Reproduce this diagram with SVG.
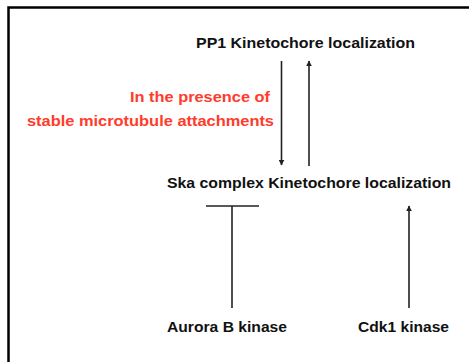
<svg xmlns="http://www.w3.org/2000/svg" width="469" height="362" viewBox="0 0 469 362">
<style>
text{font-family:"Liberation Sans",Arial,sans-serif;font-weight:bold;font-size:15px;fill:#111}
.red{fill:#ff3b2b}
.ln{stroke:#222;stroke-width:1.6;fill:none}
</style>
<defs>
<marker id="ah" viewBox="0 0 10 10" refX="9" refY="5" markerWidth="6" markerHeight="6" orient="auto" markerUnits="userSpaceOnUse">
<path d="M0,0 L10,5 L0,10 Z" fill="#222"/>
</marker>
</defs>
<rect x="0" y="0" width="469" height="362" fill="#fff"/>
<path d="M8.5,362 V7.5 H469" fill="none" stroke="#000" stroke-width="2.5"/>
<g id="pp1"><text x="196" y="48" textLength="219" lengthAdjust="spacingAndGlyphs">PP1 Kinetochore localization</text></g>
<g id="condition">
<text class="red" x="130" y="102" textLength="140" lengthAdjust="spacingAndGlyphs">In the presence of</text>
<text class="red" x="27" y="126" textLength="247" lengthAdjust="spacingAndGlyphs">stable microtubule attachments</text>
</g>
<g id="ska"><text x="167" y="188" textLength="284" lengthAdjust="spacingAndGlyphs">Ska complex Kinetochore localization</text></g>
<g id="aurora"><text x="167" y="332" textLength="120" lengthAdjust="spacingAndGlyphs">Aurora B kinase</text></g>
<g id="cdk1"><text x="358" y="332" textLength="91" lengthAdjust="spacingAndGlyphs">Cdk1 kinase</text></g>
<g id="connectors">
<line class="ln" x1="281.5" y1="61" x2="281.5" y2="165" marker-end="url(#ah)"/>
<line class="ln" x1="309" y1="166" x2="309" y2="61" marker-end="url(#ah)"/>
<line class="ln" x1="232" y1="308" x2="232" y2="206"/>
<line class="ln" x1="206" y1="206" x2="259" y2="206"/>
<line class="ln" x1="409" y1="308" x2="409" y2="206" marker-end="url(#ah)"/>
</g>
</svg>
